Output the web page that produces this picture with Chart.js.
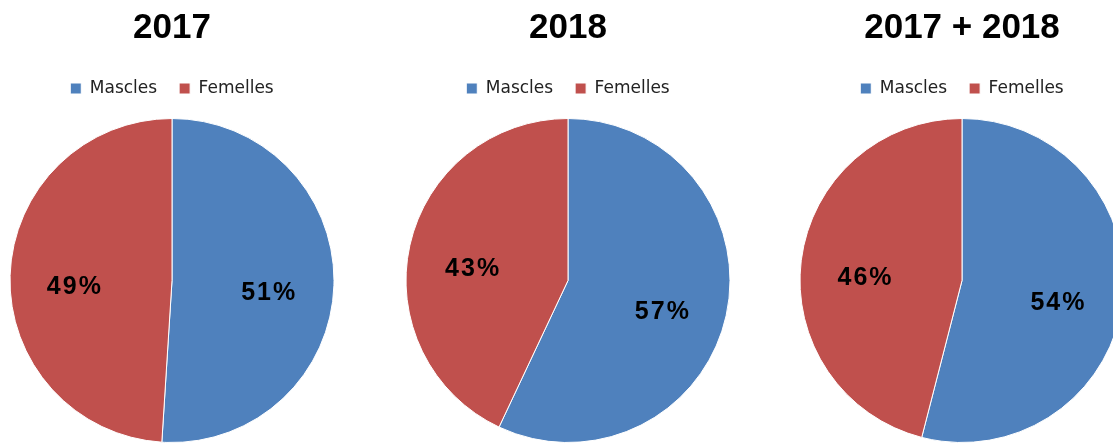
<!DOCTYPE html>
<html>
<head>
<meta charset="utf-8">
<script src="https://cdn.jsdelivr.net/npm/chart.js@4/dist/chart.umd.min.js"></script>
<style>
  html, body { margin: 0; padding: 0; background: #fff; overflow: hidden; width: 1113px; height: 445px; }
  .pie-box { position: absolute; top: 0; width: 340px; height: 445px; }
</style>
</head>
<body>
<div class="pie-box" style="left:2px"><canvas id="pie-2017" width="340" height="445"></canvas></div>
<div class="pie-box" style="left:398px"><canvas id="pie-2018" width="340" height="445"></canvas></div>
<div class="pie-box" style="left:792px"><canvas id="pie-total" width="340" height="445"></canvas></div>
<script>
const categories = ['Mascles', 'Femelles'];
const chartTitles = ['2017', '2018', '2017 + 2018'];
const pct2017 = [51, 49];
const pct2018 = [57, 43];
const pctTotal = [54, 46];
const sliceColors = ['#4F81BD', '#C0504D'];

// extra gap under the legend row
const legendGap = {
    id: 'legendGap',
    beforeInit(chart) {
        const fit = chart.legend.fit;
        chart.legend.fit = function () {
            fit.call(this);
            this.height += 11;
        };
    },
};

// percentage text inside each slice, along the slice's middle angle
const pctLabels = {
    id: 'pctLabels',
    afterDatasetsDraw(chart) {
        const { ctx } = chart;
        const values = chart.data.datasets[0].data;
        ctx.save();
        ctx.font = 'bold 25px "Liberation Sans", Arial, sans-serif';
        ctx.letterSpacing = '2px';
        ctx.fillStyle = '#000';
        ctx.textAlign = 'center';
        ctx.textBaseline = 'middle';
        chart.getDatasetMeta(0).data.forEach((arc, i) => {
            const { x, y, startAngle, endAngle, outerRadius } = arc.getProps(['x', 'y', 'startAngle', 'endAngle', 'outerRadius'], true);
            const mid = (startAngle + endAngle) / 2;
            const r = outerRadius * 0.6;
            ctx.fillText(values[i] + '%', x + Math.cos(mid) * r, y + Math.sin(mid) * r + 10);
        });
        ctx.restore();
    },
};

function makePie(id, title, values) {
    new Chart(document.getElementById(id), {
        type: 'pie',
        data: {
            labels: categories,
            datasets: [{ data: values, backgroundColor: sliceColors, borderColor: '#fff', borderWidth: 1 }],
        },
        options: {
            responsive: false, animation: false,
            layout: { padding: { top: 2, bottom: 2 } },
            plugins: {
                title: {
                    display: true, text: title, color: '#000',
                    font: { family: '"Liberation Sans", Arial, sans-serif', size: 35, weight: 'bold', lineHeight: 1.2 },
                    padding: { top: 5, bottom: 9 },
                },
                legend: {
                    position: 'top',
                    labels: {
                        boxWidth: 11, boxHeight: 11, padding: 22, color: '#222',
                        font: { family: '"DejaVu Sans", sans-serif', size: 17 },
                    },
                },
                tooltip: { enabled: false },
            },
        },
        plugins: [legendGap, pctLabels],
    });
}

makePie('pie-2017', chartTitles[0], pct2017);
makePie('pie-2018', chartTitles[1], pct2018);
makePie('pie-total', chartTitles[2], pctTotal);
</script>
</body>
</html>
